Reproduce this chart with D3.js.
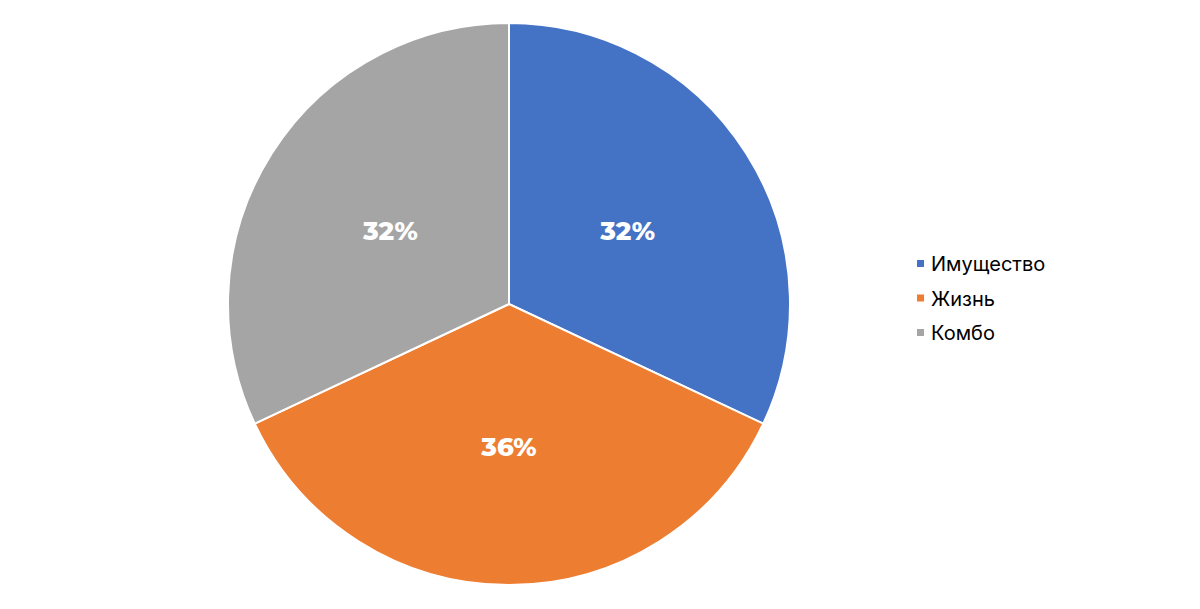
<!DOCTYPE html>
<html><head><meta charset="utf-8">
<script src="https://cdn.jsdelivr.net/npm/d3@7"></script>
<style>html,body{margin:0;padding:0;background:#fff;}</style>
</head><body>
<svg id="chart" width="1200" height="609"></svg>
<script>
const categories = ["Имущество", "Жизнь", "Комбо"];
const values = [32, 36, 32];
const colors = ["#4472C4", "#ED7D31", "#A5A5A5"];

const svg = d3.select("#chart");
const cx = 509, cy = 304, R = 281;
const data = categories.map((c, i) => ({name: c, value: values[i], color: colors[i]}));
const pie = d3.pie().value(d => d.value).sort(null);
const arcs = pie(data);
const arc = d3.arc().innerRadius(0).outerRadius(R);
const labelArc = d3.arc().innerRadius(R * 0.5).outerRadius(R * 0.5);

const g = svg.append("g").attr("transform", `translate(${cx},${cy})`);
g.selectAll("path").data(arcs).join("path")
  .attr("d", arc).attr("fill", d => d.data.color)
  .attr("stroke", "#fff").attr("stroke-width", 2);

g.selectAll("text").data(arcs).join("text")
  .attr("transform", d => `translate(${labelArc.centroid(d)})`)
  .attr("text-anchor", "middle").attr("dy", "0.45em")
  .attr("fill", "#fff").attr("font-family", "Montserrat, 'Open Sans', Lato, sans-serif")
  .attr("font-weight", 800).attr("font-size", 26)
  .text(d => d.data.value + "%");

const legend = svg.append("g").attr("transform", "translate(917,264)");
const rows = legend.selectAll("g").data(data).join("g")
  .attr("transform", (d, i) => `translate(0,${i * 34.5})`);
rows.append("rect").attr("x", 0).attr("y", -4).attr("width", 7).attr("height", 7).attr("fill", d => d.color);
rows.append("text").attr("x", 14).attr("y", 0).attr("dy", "0.35em")
  .attr("font-family", "Inter, 'Noto Sans', sans-serif").attr("font-size", 20).attr("fill", "#000")
  .text(d => d.name);
</script>
</body></html>
